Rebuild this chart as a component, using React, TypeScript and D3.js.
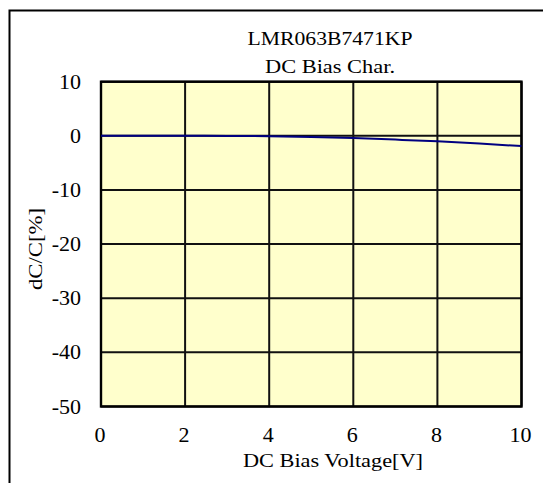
import React from "react";
import * as d3 from "d3";

const titleLines = ["LMR063B7471KP", "DC Bias Char."];
const xLabel = "DC Bias Voltage[V]";
const yLabel = "dC/C[%]";
const xTicks = [0, 2, 4, 6, 8, 10];
const yTicks = [10, 0, -10, -20, -30, -40, -50];
const voltage = [0, 1, 2, 3, 4, 5, 6, 7, 8, 9, 10];
const dcc = [0, 0, 0, -0.02, -0.06, -0.2, -0.42, -0.7, -1.02, -1.42, -1.9];

const W = 543;
const H = 483;
const FONT = "'Liberation Serif', 'Times New Roman', serif";

export default function App() {
  const x = d3.scaleLinear().domain([0, 10]).range([101, 521.5]);
  const y = d3.scaleLinear().domain([-50, 10]).range([406.5, 81.7]);
  const pts: [number, number][] = voltage.map((v, i) => [v, dcc[i]]);
  const line = d3
    .line<[number, number]>()
    .x((d) => x(d[0]))
    .y((d) => y(d[1]))
    .curve(d3.curveMonotoneX);
  const titleWidths = [165, 130];
  return (
    <svg
      width={W}
      height={H}
      style={{ position: "absolute", left: 0, top: 0, background: "#fff" }}
      fontFamily={FONT}
    >
      <rect x={0} y={0} width={W} height={H} fill="#fff" />
      <rect x={9.5} y={10.5} width={600} height={600} fill="none" stroke="#000" strokeWidth={2} />
      {titleLines.map((t, i) => (
        <text
          key={t}
          x={330 - titleWidths[i] / 2}
          y={45 + i * 28}
          fontSize={19}
          fill="#000"
          textLength={titleWidths[i]}
          lengthAdjust="spacingAndGlyphs"
        >
          {t}
        </text>
      ))}
      <rect
        x={x(0)}
        y={y(10)}
        width={x(10) - x(0)}
        height={y(-50) - y(10)}
        fill="#FFFFCC"
      />
      {xTicks.map((t) => (
        <line key={"gx" + t} x1={x(t)} x2={x(t)} y1={y(10)} y2={y(-50)} stroke="#111" strokeWidth={2} />
      ))}
      {yTicks.map((t) => (
        <line key={"gy" + t} x1={x(0)} x2={x(10)} y1={y(t)} y2={y(t)} stroke="#111" strokeWidth={2} />
      ))}
      <rect
        x={x(0)}
        y={y(10)}
        width={x(10) - x(0)}
        height={y(-50) - y(10)}
        fill="none"
        stroke="#000"
        strokeWidth={2.4}
      />
      <path d={line(pts) || ""} fill="none" stroke="#000080" strokeWidth={2} />
      {yTicks.map((t) => (
        <text
          key={"ty" + t}
          transform={`translate(81,${y(t) + 7}) scale(1.1,1)`}
          textAnchor="end"
          fontSize={20}
          fill="#000"
        >
          {t}
        </text>
      ))}
      {xTicks.map((t) => (
        <text
          key={"tx" + t}
          transform={`translate(${x(t) - 1},442) scale(1.1,1)`}
          textAnchor="middle"
          fontSize={20}
          fill="#000"
        >
          {t}
        </text>
      ))}
      <text
        x={243}
        y={467}
        fontSize={19}
        fill="#000"
        textLength={180}
        lengthAdjust="spacingAndGlyphs"
      >
        {xLabel}
      </text>
      <text
        transform={`translate(42,290) rotate(-90)`}
        fontSize={19}
        fill="#000"
        textLength={82}
        lengthAdjust="spacingAndGlyphs"
      >
        {yLabel}
      </text>
    </svg>
  );
}
